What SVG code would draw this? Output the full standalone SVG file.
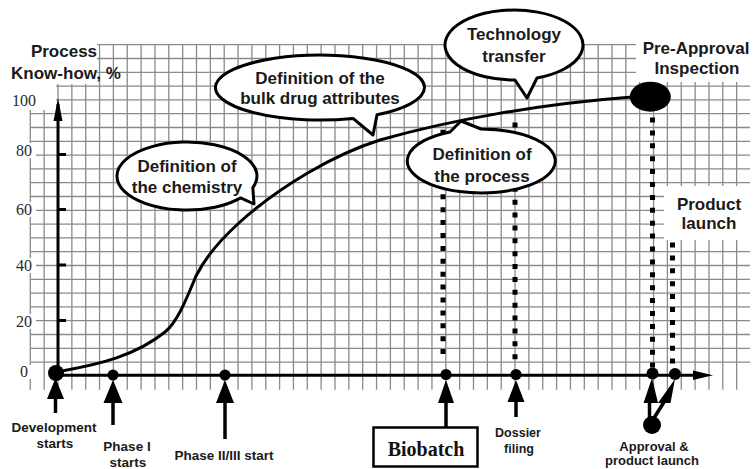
<svg xmlns="http://www.w3.org/2000/svg" width="753" height="469" viewBox="0 0 753 469">
<defs>
<style>
.grid{stroke:#8a8a8a;stroke-width:1.3;fill:none}
.ax{stroke:#000;stroke-width:3;fill:none}
.bub{fill:#fff;stroke:#000;stroke-width:3;stroke-linejoin:round}
.bt{font-family:"Liberation Sans",Arial,sans-serif;font-weight:bold;font-size:17px;fill:#1a1a1a;text-anchor:middle}
.lt{font-family:"Liberation Sans",Arial,sans-serif;font-weight:bold;font-size:13.5px;fill:#1a1a1a;text-anchor:middle}
.num{font-family:"Liberation Serif","Times New Roman",serif;font-size:16px;fill:#2a2a2a;text-anchor:middle}
.dots{stroke:#000;stroke-width:5;stroke-dasharray:5 7.9;fill:none}
.sh{stroke:#000;stroke-width:3.5;fill:none}
.wh{fill:#fff}
</style>
</defs>
<rect width="753" height="469" fill="#fff"/>
<g id="grid">
<path class="grid" d="M30.3 44.7V389.7M44.15 44.7V389.7M58 44.7V389.7M71.85 44.7V389.7M85.7 44.7V389.7M99.55 44.7V389.7M113.4 44.7V389.7M127.25 44.7V389.7M141.1 44.7V389.7M154.95 44.7V389.7M168.8 44.7V389.7M182.65 44.7V389.7M196.5 44.7V389.7M210.35 44.7V389.7M224.2 44.7V389.7M238.05 44.7V389.7M251.9 44.7V389.7M265.75 44.7V389.7M279.6 44.7V389.7M293.45 44.7V389.7M307.3 44.7V389.7M321.15 44.7V389.7M335 44.7V389.7M348.85 44.7V389.7M362.7 44.7V389.7M376.55 44.7V389.7M390.4 44.7V389.7M404.25 44.7V389.7M418.1 44.7V389.7M431.95 44.7V389.7M445.8 44.7V389.7M459.65 44.7V389.7M473.5 44.7V389.7M487.35 44.7V389.7M501.2 44.7V389.7M515.05 44.7V389.7M528.9 44.7V389.7M542.75 44.7V389.7M556.6 44.7V389.7M570.45 44.7V389.7M584.3 44.7V389.7M598.15 44.7V389.7M612 44.7V389.7M625.85 44.7V389.7M639.7 44.7V389.7M653.55 44.7V389.7M667.4 44.7V389.7M681.25 44.7V389.7M695.1 44.7V389.7M708.95 44.7V389.7M722.8 44.7V389.7M736.65 44.7V389.7"/>
<path class="grid" d="M30.3 44.7H750M30.3 58.5H750M30.3 72.3H750M30.3 86.1H750M30.3 99.9H750M30.3 113.7H750M30.3 127.5H750M30.3 141.3H750M30.3 155.1H750M30.3 168.9H750M30.3 182.7H750M30.3 196.5H750M30.3 210.3H750M30.3 224.1H750M30.3 237.9H750M30.3 251.7H750M30.3 265.5H750M30.3 279.3H750M30.3 293.1H750M30.3 306.9H750M30.3 320.7H750M30.3 334.5H750M30.3 348.3H750M30.3 362.1H750"/>
<rect class="wh" x="0" y="38" width="97" height="46"/>
<rect class="wh" x="0" y="84" width="56" height="26"/>
<rect class="wh" x="636" y="0" width="117" height="82"/>
<rect class="wh" x="664" y="186" width="89" height="54"/>
<rect class="wh" x="13" y="143" width="23" height="15"/>
<rect class="wh" x="13" y="202" width="23" height="15"/>
<rect class="wh" x="13" y="258" width="23" height="15"/>
<rect class="wh" x="13" y="314" width="23" height="15"/>
<rect class="wh" x="17" y="365" width="14" height="14"/>
</g>
<g id="axis-labels">
<text class="bt" x="64" y="57">Process</text>
<text class="bt" x="66" y="79">Know-how, %</text>
<text class="num" x="24" y="106">100</text>
<text class="num" x="24" y="156">80</text>
<text class="num" x="24" y="215">60</text>
<text class="num" x="24" y="271">40</text>
<text class="num" x="24" y="327">20</text>
<text class="num" x="24" y="377">0</text>
</g>
<g id="connectors">
<line class="dots" x1="443" y1="129.8" x2="443" y2="354.2"/>
<line class="dots" x1="515" y1="122.5" x2="515" y2="359.3" style="stroke-dasharray:5 7.87"/>
<line class="dots" x1="652.5" y1="117.5" x2="652.5" y2="367.6"/>
<line class="dots" x1="672.5" y1="242.5" x2="672.5" y2="365"/>
<line class="ax" x1="58" y1="376" x2="58" y2="104"/>
<polygon points="53.5,121 62.5,121 58,98" fill="#000"/>
<path class="ax" d="M58 154.5H66M58 209.5H66M58 265H66M58 320.5H66" stroke-width="2.5"/>
<line class="ax" x1="55" y1="375.3" x2="698" y2="375.3"/>
<polygon points="693,370.5 713,375.3 693,380" fill="#000"/>
<path id="curve" d="M62 371 C100 364 135 356 165 332 C178 321.6 188 295 196 276 C205 258 220 240 240 222 C280 186 335 154 380 140 C450 120 540 104 632 97" fill="none" stroke="#000" stroke-width="3"/>
</g>
<g id="bubble-chemistry">
<path class="bub" d="M252.8 187.6 A70 34 0 1 0 240.6 197.9 L254 204 Z"/>
<text class="bt" x="187" y="172">Definition of</text>
<text class="bt" x="187" y="193">the chemistry</text>
</g>
<g id="bubble-bulk">
<path class="bub" d="M377 114.8 A104.5 32.5 0 1 0 353 118.4 L373 135 Z"/>
<text class="bt" x="320" y="84">Definition of the</text>
<text class="bt" x="320" y="104">bulk drug attributes</text>
</g>
<g id="bubble-tech">
<path class="bub" d="M537 78 A69 35 0 1 0 515 80 L527 98 Z"/>
<text class="bt" x="514" y="40">Technology</text>
<text class="bt" x="514" y="62">transfer</text>
</g>
<g id="bubble-process">
<path class="bub" d="M481 129 A74 32 0 1 1 450 132 L461 121 Z"/>
<text class="bt" x="482" y="160">Definition of</text>
<text class="bt" x="482" y="182">the process</text>
</g>
<g id="pre-approval">
<ellipse cx="650.3" cy="96.7" rx="20.5" ry="15" fill="#000"/>
<text class="bt" x="696" y="54">Pre-Approval</text>
<text class="bt" x="697" y="74">Inspection</text>
</g>
<g id="product-launch">
<text class="bt" x="709" y="210">Product</text>
<text class="bt" x="709" y="229">launch</text>
</g>
<g id="ev-development">
<circle cx="56" cy="373" r="8"/>
<polygon points="47,399 64,399 55.5,378"/>
<line class="sh" x1="55.5" y1="398" x2="55.5" y2="413"/>
<text class="lt" x="54" y="432">Development</text>
<text class="lt" x="55" y="448">starts</text>
</g>
<g id="ev-phase1">
<circle cx="113" cy="375" r="5.5"/>
<polygon points="103.5,403 122.5,403 113,380"/>
<line class="sh" x1="113" y1="402" x2="113" y2="425"/>
<text class="lt" x="127" y="450.5">Phase I</text>
<text class="lt" x="128" y="467">starts</text>
</g>
<g id="ev-phase23">
<circle cx="225" cy="375" r="5.5"/>
<polygon points="216,403 234,403 225,380"/>
<line class="sh" x1="225" y1="402" x2="225" y2="439"/>
<text class="lt" x="224" y="460">Phase II/III start</text>
</g>
<g id="ev-biobatch">
<circle cx="446" cy="374.5" r="5.5"/>
<polygon points="438,403 454,403 446,380"/>
<line class="sh" x1="446" y1="402" x2="446" y2="428"/>
<rect x="373.5" y="427.5" width="104" height="39" fill="#fff" stroke="#000" stroke-width="2.5"/>
<text x="426" y="456" font-family="'Liberation Serif','Times New Roman',serif" font-weight="bold" font-size="20" fill="#111" text-anchor="middle">Biobatch</text>
</g>
<g id="ev-dossier">
<circle cx="516" cy="374.5" r="5.5"/>
<polygon points="507.5,402 524.5,402 516,380"/>
<line class="sh" x1="516" y1="401" x2="516" y2="417"/>
<text class="lt" x="518" y="437" style="font-size:12.5px">Dossier</text>
<text class="lt" x="519" y="453" style="font-size:12.5px">filing</text>
</g>
<g id="ev-approval">
<circle cx="652.5" cy="373.5" r="6"/>
<circle cx="675" cy="374" r="6"/>
<polygon points="643.5,403 658,403 652,378"/>
<polygon points="658,403 670.5,403 675,379"/>
<circle cx="652" cy="425" r="9"/>
<line class="sh" x1="649.5" y1="420" x2="649.5" y2="402" stroke-width="3"/>
<line class="sh" x1="654" y1="418" x2="664" y2="402" stroke-width="3"/>
<text class="lt" x="654" y="451" style="font-size:13px">Approval &amp;</text>
<text class="lt" x="652" y="465" style="font-size:13px">product launch</text>
</g>
</svg>
